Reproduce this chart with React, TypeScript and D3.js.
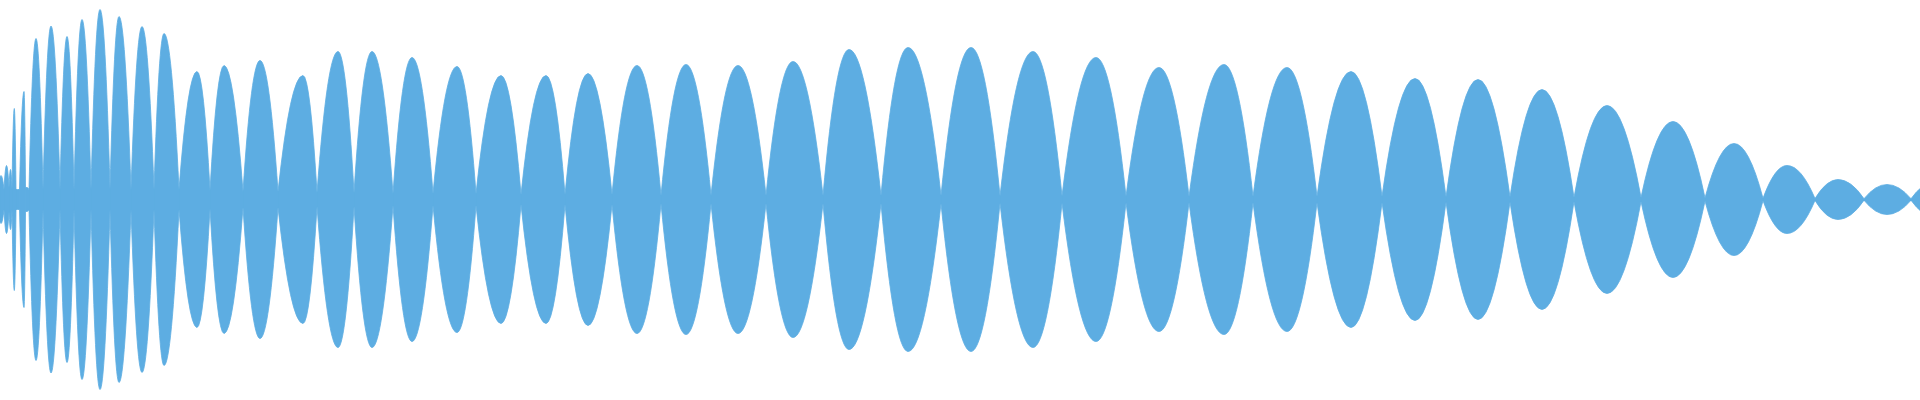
import React, { useEffect } from "react";
import * as d3 from "d3";

// Zero crossings of the waveform envelope (time units)
const crossings = [
  0, 4, 9, 12, 16, 19.5, 25.5, 29, 43, 60, 74, 91, 110, 131, 154, 179, 210, 243, 278, 317,
  354, 393, 433, 476, 521, 565, 612, 661, 711, 766, 823, 881, 941, 1000, 1062, 1126, 1189,
  1253, 1317, 1382, 1446, 1510, 1574, 1641, 1705, 1763, 1815, 1864, 1911, 1957,
];

// Residual amplitude at each crossing
const crossingAmp = [
  0.11, 0.05, 0.06, 0.05, 0.05, 0.05, 0.06, 0.05, 0.05, 0.05, 0.05, 0.05, 0.05, 0.05, 0.05,
  0.05, 0.045, 0.04, 0.04, 0.035, 0.035, 0.03, 0.03, 0.03, 0.025, 0.025, 0.025, 0.02, 0.02,
  0.02, 0.02, 0.02, 0.02, 0.018, 0.018, 0.016, 0.015, 0.015, 0.015, 0.015, 0.012, 0.012,
  0.01, 0.01, 0.008, 0.006, 0.005, 0.004, 0.004, 0.004,
];

// Peak time of each lobe
const peakTime = [
  1, 6.5, 10.5, 14.3, 17.5, 24, 27, 36, 51, 67, 82, 100, 119, 142, 164, 197, 224, 260, 303,
  338, 372, 412, 457, 501, 546, 588, 637, 686, 738, 793, 849, 908, 971, 1033, 1096, 1159,
  1224, 1287, 1351, 1415, 1478, 1542, 1607, 1673, 1734, 1787, 1838, 1887, 1934,
];

// Peak amplitude of each lobe (normalised)
const peakAmp = [
  0.12, 0.17, 0.15, 0.455, 0.05, 0.54, 0.06, 0.805, 0.8675, 0.815, 0.9, 0.95, 0.915, 0.865,
  0.83, 0.64, 0.67, 0.695, 0.62, 0.74, 0.74, 0.71, 0.665, 0.62, 0.62, 0.63, 0.67, 0.675,
  0.67, 0.69, 0.75, 0.76, 0.76, 0.74, 0.71, 0.66, 0.675, 0.66, 0.64, 0.605, 0.6, 0.55, 0.47,
  0.39, 0.28, 0.17, 0.1, 0.075, 0.085,
];

const W = 1920;
const H = 400;
const COLOR = "#5dade2";

export default function App() {
  useEffect(() => {
    document.body.style.margin = "0";
  }, []);

  const x = d3.scaleLinear().domain([0, 1920]).range([0, W]);
  const y = d3.scaleLinear().domain([-1, 1]).range([399.5, -0.5]);

  const lobePath = (i: number) => {
    const x0 = x(crossings[i]);
    const x1 = x(crossings[i + 1]);
    const xp = x(peakTime[i]);
    const f0 = crossingAmp[i];
    const f1 = crossingAmp[i + 1];
    const a = peakAmp[i];
    const p = d3.path();
    p.moveTo(x0, y(f0));
    p.quadraticCurveTo((x0 + xp) / 2, y(a), xp, y(a));
    p.quadraticCurveTo((xp + x1) / 2, y(a), x1, y(f1));
    p.lineTo(x1, y(-f1));
    p.quadraticCurveTo((xp + x1) / 2, y(-a), xp, y(-a));
    p.quadraticCurveTo((x0 + xp) / 2, y(-a), x0, y(-f0));
    p.closePath();
    return p.toString();
  };

  return (
    <svg width={W} height={H} style={{ display: "block" }}>
      <g>
        {peakTime.map((_, i) => (
          <path key={i} d={lobePath(i)} fill={COLOR} stroke={COLOR} strokeWidth={0.8} />
        ))}
      </g>
    </svg>
  );
}
